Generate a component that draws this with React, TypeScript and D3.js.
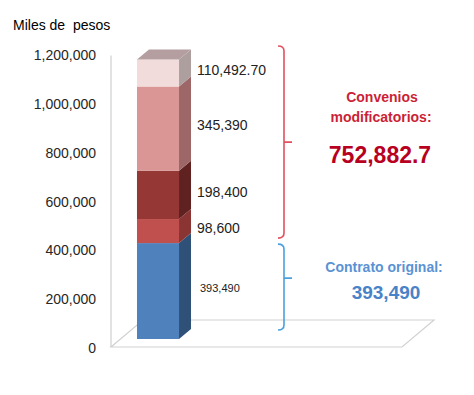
import React from "react";
import * as d3 from "d3";

const categories = ["Contrato"];
const seriesNames = ["Contrato original", "Convenio 1", "Convenio 2", "Convenio 3", "Convenio 4"];
const seriesValues = [393490, 98600, 198400, 345390, 110492.7];
const seriesLabels = ["393,490", "98,600", "198,400", "345,390", "110,492.70"];
const tickValues = [0, 200000, 400000, 600000, 800000, 1000000, 1200000];
const frontColors = ["#4f81bd", "#c0504d", "#953735", "#d99694", "#f2dcdb"];
const sideColors = ["#2f5178", "#8a3533", "#5f2221", "#9c6766", "#ae9f9f"];
const topColor = "#b49ea0";

const W = 474;
const H = 395;

export default function App() {
  const y = d3.scaleLinear().domain([0, 1200000]).range([348, 55.5]);
  const x = d3.scaleBand<string>().domain(categories).range([111, 205]).padding(0.382);
  const shiftY = -9; // bar sits at depth inside floor
  const dx = 12;
  const dy = -10;
  const by = (v: number) => y(v) + shiftY;

  const stack = d3.stack<any>().keys(seriesNames)([
    Object.fromEntries(seriesNames.map((k, i) => [k, seriesValues[i]])),
  ]);

  const x0 = x(categories[0]) as number;
  const bw = x.bandwidth();
  const total = d3.sum(seriesValues);
  const convenios = d3.sum(seriesValues.slice(1));
  const fmt = d3.format(",");
  const fmt1 = d3.format(",.1f");

  const floorFront = y(0) - 1;
  const floorLeft = 111;
  const floorRight = 402;
  const fdx = 32;
  const fdy = -27;

  const brace = (bx: number, top: number, bottom: number, mid: number) =>
    `M${bx - 6},${top} Q${bx},${top} ${bx},${top + 5} L${bx},${bottom - 5} Q${bx},${bottom} ${bx - 6},${bottom} M${bx},${mid} L${bx + 8},${mid}`;

  const redTop = by(total) - 13.5;
  const redBottom = by(seriesValues[0]) - 5;
  const blueTop = by(seriesValues[0]) + 1;
  const blueBottom = by(0) - 9;

  return (
    <svg width={W} height={H} style={{ position: "absolute", left: 0, top: 0, background: "#fff" }}>
      <text x={13} y={30} fontFamily="Liberation Sans, Arial" fontSize={14} fill="#000" style={{ whiteSpace: "pre" }}>
        {"Miles de  pesos"}
      </text>
      {/* floor */}
      <polygon
        points={`${floorLeft},${floorFront} ${floorRight},${floorFront} ${floorRight + fdx},${floorFront + fdy} ${floorLeft + fdx},${floorFront + fdy}`}
        fill="#fff"
        stroke="#d2d2d2"
        strokeWidth={1.2}
      />
      <line x1={floorLeft} x2={floorLeft} y1={y(1200000)} y2={floorFront} stroke="#cfcfcf" strokeWidth={1.2} />
      {tickValues.map((t) => (
        <text
          key={t}
          x={96}
          y={y(t)}
          dy="0.35em"
          textAnchor="end"
          fontFamily="Liberation Sans, Arial"
          fontSize={14}
          fill="#262626"
        >
          {fmt(t)}
        </text>
      ))}
      {/* bar segments */}
      {stack.map((s, i) => {
        const v0 = s[0][0];
        const v1 = s[0][1];
        const yb = by(v0);
        const yt = by(v1);
        return (
          <g key={seriesNames[i]}>
            <polygon
              points={`${x0 + bw},${yb} ${x0 + bw + dx},${yb + dy} ${x0 + bw + dx},${yt + dy} ${x0 + bw},${yt}`}
              fill={sideColors[i]}
            />
            <rect x={x0} y={yt} width={bw} height={yb - yt} fill={frontColors[i]} />
          </g>
        );
      })}
      <polygon
        points={`${x0},${by(total)} ${x0 + dx},${by(total) + dy} ${x0 + bw + dx},${by(total) + dy} ${x0 + bw},${by(total)}`}
        fill={topColor}
      />
      {stack.map((s, i) => {
        const mid = (by(s[0][0]) + by(s[0][1])) / 2 - 3;
        return (
          <text
            key={"l" + i}
            x={i === 0 ? 200 : 197}
            y={mid}
            dy="0.35em"
            fontFamily="Liberation Sans, Arial"
            fontSize={i === 0 ? 11 : 14}
            fill="#222"
          >
            {seriesLabels[i]}
          </text>
        );
      })}
      {/* braces */}
      <path d={brace(284, redTop, redBottom, (redTop + redBottom) / 2)} fill="none" stroke="#e2505e" strokeWidth={1.6} />
      <path d={brace(284, blueTop, blueBottom, blueTop + 34)} fill="none" stroke="#4aa0dc" strokeWidth={1.6} />
      <g fontFamily="Liberation Sans, Arial" fontWeight="bold" textAnchor="middle">
        <text x={382} y={97} dy="0.35em" fontSize={14} fill="#cc1f35">
          Convenios
        </text>
        <text x={381} y={117} dy="0.35em" fontSize={14} fill="#cc1f35">
          modificatorios:
        </text>
        <text x={380} y={155} dy="0.35em" fontSize={23} fill="#b8001f">
          {fmt1(convenios)}
        </text>
        <text x={384} y={267} dy="0.35em" fontSize={14} fill="#5a92d4">
          Contrato original:
        </text>
        <text x={386} y={292} dy="0.35em" fontSize={19} fill="#4a82c8">
          {fmt(seriesValues[0])}
        </text>
      </g>
    </svg>
  );
}
